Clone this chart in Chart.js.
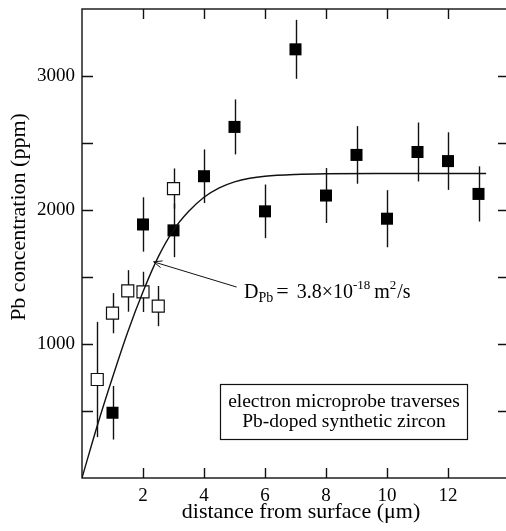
<!DOCTYPE html>
<html>
<head>
<meta charset="utf-8">
<script src="https://cdn.jsdelivr.net/npm/chart.js@4"></script>
<style>
  html, body { margin: 0; padding: 0; background: #fff; overflow: hidden; }
  #c { display: block; width: 512px; height: 531px; }
</style>
</head>
<body>
<canvas id="c" width="512" height="531"></canvas>
<script>
// open squares
const openX = [0.5, 1, 1.5, 2, 2.5, 3];
const openY = [735, 1230, 1396, 1389, 1283, 2160];
const openErr = [430, 150, 155, 150, 150, 150];

// filled squares
const filledX = [1, 2, 3, 4, 5, 6, 7, 8, 9, 10, 11, 12, 13];
const filledY = [487, 1892, 1848, 2252, 2620, 1990, 3199, 2108, 2411, 1935, 2433, 2365, 2120];
const filledErr = [200, 203, 200, 200, 205, 200, 220, 205, 215, 213, 220, 215, 206];

// diffusion fit curve
const fitX = [0, 0.5, 1, 1.5, 2, 2.5, 3, 3.5, 4, 4.5, 5, 5.5, 6, 7, 8, 10, 13.25];
const fitY = [0, 390, 750, 1090, 1390, 1650, 1850, 1990, 2095, 2165, 2210, 2237, 2252, 2265, 2270, 2272, 2272];

const xTicks = [2, 4, 6, 8, 10, 12];
const yLabels = [1000, 2000, 3000];

const FONT = "'Liberation Serif', 'DejaVu Serif', serif";
const pts = (xs, ys) => xs.map((v, i) => ({ x: v, y: ys[i] }));

// error bars, behind the squares
const errorBars = {
  id: "errorBars",
  beforeDatasetsDraw(chart) {
    const ctx = chart.ctx, sx = chart.scales.x, sy = chart.scales.y;
    ctx.save();
    ctx.strokeStyle = "#111";
    ctx.lineWidth = 1.4;
    const draw = (xs, ys, es) => {
      xs.forEach((v, i) => {
        const px = Math.round(sx.getPixelForValue(v)) + 0.5;
        ctx.beginPath();
        ctx.moveTo(px, sy.getPixelForValue(ys[i] - es[i]));
        ctx.lineTo(px, sy.getPixelForValue(ys[i] + es[i]));
        ctx.stroke();
      });
    };
    draw(openX, openY, openErr);
    draw(filledX, filledY, filledErr);
    ctx.restore();
  }
};

// frame, inward ticks, titles, annotation and the label box
const decor = {
  id: "decor",
  afterDatasetsDraw(chart) {
    const ctx = chart.ctx, sx = chart.scales.x, sy = chart.scales.y;
    const a = chart.chartArea;
    ctx.save();
    ctx.strokeStyle = "#111";
    ctx.lineWidth = 1.4;
    ctx.strokeRect(a.left, a.top, a.right - a.left, a.bottom - a.top);

    ctx.beginPath();
    sy.ticks.forEach(t => {
      if (t.value <= 0 || t.value >= 3500) return;
      const py = Math.round(sy.getPixelForValue(t.value)) + 0.5;
      ctx.moveTo(a.left, py); ctx.lineTo(a.left + 11, py);
      ctx.moveTo(a.right, py); ctx.lineTo(a.right - 11, py);
    });
    xTicks.forEach(v => {
      const px = Math.round(sx.getPixelForValue(v)) + 0.5;
      ctx.moveTo(px, a.bottom); ctx.lineTo(px, a.bottom - 10);
      ctx.moveTo(px, a.top); ctx.lineTo(px, a.top + 10);
    });
    ctx.stroke();

    ctx.fillStyle = "#000";
    // axis titles
    ctx.font = "22px " + FONT;
    ctx.textAlign = "center";
    ctx.textBaseline = "alphabetic";
    ctx.fillText("distance from surface (\u03bcm)", 301, 518);
    ctx.save();
    ctx.translate(25, 217);
    ctx.rotate(-Math.PI / 2);
    ctx.fillText("Pb concentration (ppm)", 0, 0);
    ctx.restore();

    // arrow to the curve
    const tipX = sx.getPixelForValue(2.35), tipY = sy.getPixelForValue(1613);
    const tailX = sx.getPixelForValue(5.07), tailY = sy.getPixelForValue(1425);
    ctx.lineWidth = 1;
    ctx.beginPath();
    ctx.moveTo(tailX, tailY); ctx.lineTo(tipX, tipY);
    const ang = Math.atan2(tailY - tipY, tailX - tipX);
    [0.4, -0.4].forEach(d => {
      ctx.moveTo(tipX, tipY);
      ctx.lineTo(tipX + 9 * Math.cos(ang + d), tipY + 9 * Math.sin(ang + d));
    });
    ctx.stroke();

    // D_Pb = 3.8x10^-18 m^2/s
    ctx.textAlign = "left";
    let cx = 244;
    const base = 298;
    const put = (s, size, dy, gap) => {
      ctx.font = size + "px " + FONT;
      ctx.fillText(s, cx, base + dy);
      cx += ctx.measureText(s).width + (gap || 0);
    };
    put("D", 20, 0);
    put("Pb", 14, 4, 3);
    put("=", 22, 0, 8);
    put("3.8\u00d710", 20, 0);
    put("-18", 13, -9, 4);
    put("m", 20, 0);
    put("2", 13, -9, 1);
    put("/s", 20, 0);

    // label box
    ctx.lineWidth = 1.2;
    ctx.strokeRect(220.5, 384.5, 247, 55);
    ctx.font = "19.5px " + FONT;
    ctx.textAlign = "center";
    ctx.fillText("electron microprobe traverses", 344, 407);
    ctx.fillText("Pb-doped synthetic zircon", 344, 427);
    ctx.restore();
  }
};

new Chart(document.getElementById("c"), {
  type: "scatter",
  data: {
    datasets: [
      {
        data: pts(fitX, fitY),
        showLine: true,
        borderColor: "#111",
        borderWidth: 1.4,
        pointRadius: 0,
        cubicInterpolationMode: "monotone",
        order: 0
      },
      {
        data: pts(filledX, filledY),
        pointStyle: "rect",
        pointRadius: 8.5,
        backgroundColor: "#000",
        borderColor: "#000",
        borderWidth: 0,
        order: 1
      },
      {
        data: pts(openX, openY),
        pointStyle: "rect",
        pointRadius: 8.5,
        backgroundColor: "#fff",
        borderColor: "#111",
        borderWidth: 1.2,
        order: 2
      }
    ]
  },
  options: {
    responsive: false,
    animation: false,
    events: [],
    layout: { autoPadding: false, padding: { top: 9, right: 3, left: 0, bottom: 0 } },
    plugins: { legend: { display: false }, tooltip: { enabled: false } },
    scales: {
      x: {
        type: "linear",
        min: 0,
        max: 14,
        grid: { display: false, drawTicks: false },
        border: { display: false },
        ticks: {
          stepSize: 2,
          padding: 7,
          color: "#000",
          font: { family: FONT, size: 19 },
          callback: v => (xTicks.includes(v) ? v : "")
        },
        afterFit: s => { s.height = 53; s.paddingLeft = 0; s.paddingRight = 0; }
      },
      y: {
        min: 0,
        max: 3500,
        grid: { display: false, drawTicks: false },
        border: { display: false },
        ticks: {
          stepSize: 500,
          padding: 7,
          color: "#000",
          font: { family: FONT, size: 19 },
          callback: v => (yLabels.includes(v) ? v : "")
        },
        afterFit: s => { s.width = 82; s.paddingTop = 0; s.paddingBottom = 0; }
      }
    }
  },
  plugins: [errorBars, decor]
});
</script>
</body>
</html>
